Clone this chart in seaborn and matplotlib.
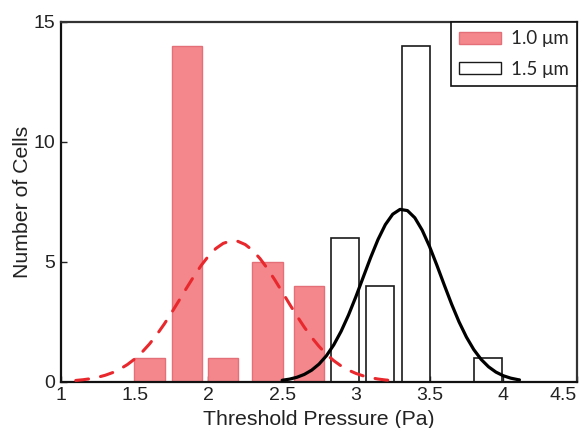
import numpy as np
import pandas as pd
import matplotlib
matplotlib.use("Agg")
import matplotlib.pyplot as plt
import seaborn as sns
from matplotlib.patches import Patch

# ---- data ----
red_centers = [1.60, 1.855, 2.10, 2.40, 2.68]
red_counts = [1, 14, 1, 5, 4]
blk_centers = [2.925, 3.165, 3.405, 3.895]
blk_counts = [6, 4, 14, 1]

red_fit_x = [1.10, 1.15, 1.20, 1.25, 1.30, 1.35, 1.40, 1.45, 1.50, 1.55, 1.60, 1.65,
             1.70, 1.75, 1.80, 1.85, 1.90, 1.95, 2.00, 2.05, 2.10, 2.15, 2.20, 2.25,
             2.30, 2.35, 2.40, 2.45, 2.50, 2.55, 2.60, 2.65, 2.70, 2.75, 2.80, 2.85,
             2.90, 2.95, 3.00, 3.05, 3.10, 3.15, 3.20, 3.24]
red_fit_y = [0.056, 0.086, 0.128, 0.189, 0.272, 0.383, 0.529, 0.717, 0.951, 1.237,
             1.576, 1.967, 2.405, 2.882, 3.383, 3.892, 4.386, 4.843, 5.240, 5.555,
             5.770, 5.872, 5.855, 5.721, 5.476, 5.136, 4.720, 4.250, 3.749, 3.241,
             2.745, 2.278, 1.852, 1.476, 1.152, 0.881, 0.660, 0.485, 0.349, 0.246,
             0.170, 0.115, 0.076, 0.054]
blk_fit_x = [2.50, 2.55, 2.60, 2.65, 2.70, 2.75, 2.80, 2.85, 2.90, 2.95, 3.00, 3.05,
             3.10, 3.15, 3.20, 3.25, 3.30, 3.35, 3.40, 3.45, 3.50, 3.55, 3.60, 3.65,
             3.70, 3.75, 3.80, 3.85, 3.90, 3.95, 4.00, 4.05, 4.10, 4.11]
blk_fit_y = [0.063, 0.110, 0.187, 0.306, 0.483, 0.736, 1.083, 1.537, 2.104, 2.780,
             3.544, 4.360, 5.175, 5.927, 6.551, 6.986, 7.188, 7.137, 6.838, 6.321,
             5.638, 4.853, 4.031, 3.230, 2.497, 1.864, 1.341, 0.932, 0.625, 0.404,
             0.252, 0.152, 0.088, 0.079]

x_ticks = [1, 1.5, 2, 2.5, 3, 3.5, 4, 4.5]
x_ticklabels = ["1", "1.5", "2", "2.5", "3", "3.5", "4", "4.5"]
y_ticks = [0, 5, 10, 15]
legend_labels = ["1.0 \u03bcm", "1.5 \u03bcm"]

sns.set_theme(style="ticks")
plt.rcParams["font.family"] = ["Liberation Sans", "DejaVu Sans"]

fig = plt.figure(figsize=(5.79, 4.28), dpi=100)
ax = fig.add_axes([0.1054, 0.108, 0.8911, 0.8406])

red_face = "#F3878C"
red_edge = "#E46F78"

ax.bar(red_centers, red_counts, width=0.205, color=red_face, edgecolor=red_edge,
       linewidth=1.0, zorder=2)
ax.bar(blk_centers, blk_counts, width=0.19, facecolor="white", edgecolor="#1a1a1a",
       linewidth=1.2, zorder=2)

dfr = pd.DataFrame({"x": red_fit_x, "y": red_fit_y})
dfb = pd.DataFrame({"x": blk_fit_x, "y": blk_fit_y})
sns.lineplot(data=dfb, x="x", y="y", ax=ax, color="black", linewidth=2.3,
             sort=True, zorder=3)
sns.lineplot(data=dfr, x="x", y="y", ax=ax, color="#E8282D", linewidth=2.2,
             sort=True, zorder=4)
ax.lines[-1].set_dashes([4.2, 4.0])
ax.lines[-1].set_dash_capstyle("round")

ax.set_xlim(1.0, 4.5)
ax.set_ylim(0, 15)
ax.set_xticks(x_ticks)
ax.set_xticklabels(x_ticklabels)
ax.set_yticks(y_ticks)
ax.tick_params(axis="both", direction="in", length=4, width=1.0, labelsize=14,
               colors="#222222", labelcolor="#222222", pad=4)
last = ax.get_xticklabels()[-1]
last.set_horizontalalignment("right")
ax.set_xlabel("Threshold Pressure (Pa)", fontsize=15.3, color="#222222", labelpad=4)
ax.set_ylabel("Number of Cells", fontsize=15.3, color="#222222", labelpad=1)

for s in ["left", "bottom"]:
    ax.spines[s].set_linewidth(1.6)
    ax.spines[s].set_color("#111111")
for s in ["top", "right"]:
    ax.spines[s].set_linewidth(1.6)
    ax.spines[s].set_color("#333333")

handles = [Patch(facecolor=red_face, edgecolor=red_edge, linewidth=1.0),
           Patch(facecolor="white", edgecolor="#1a1a1a", linewidth=1.0)]
leg = ax.legend(handles, legend_labels, loc="upper right", bbox_to_anchor=(1.0, 1.0),
                frameon=True, fancybox=False, edgecolor="#111111", framealpha=1,
                borderaxespad=0, handlelength=2.25, handleheight=0.65,
                handletextpad=0.5, borderpad=0.45, labelspacing=0.7,
                prop={"family": ["Lato", "DejaVu Sans"], "size": 13.5})
leg.get_frame().set_linewidth(1.2)

fig.savefig("out.png", dpi=100)
